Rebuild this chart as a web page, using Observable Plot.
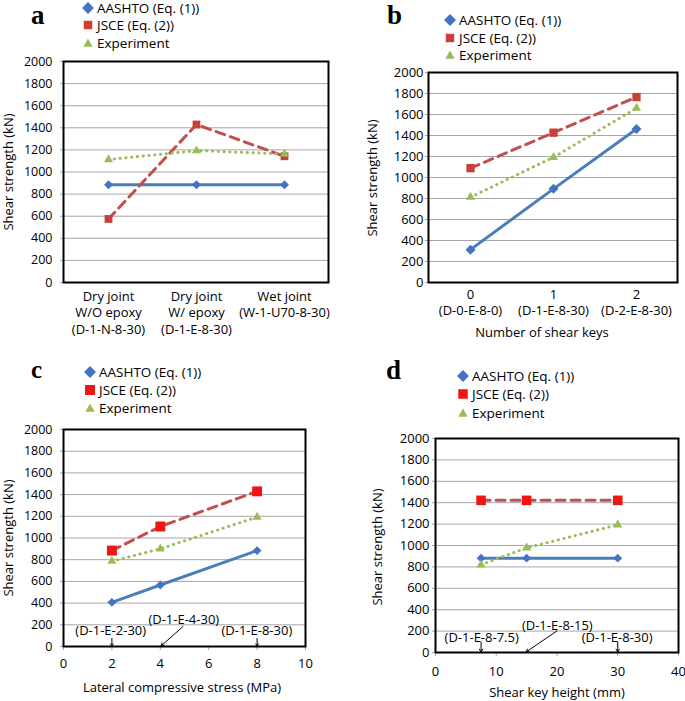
<!DOCTYPE html>
<html>
<head>
<meta charset="utf-8">
<script src="https://cdn.jsdelivr.net/npm/d3@7"></script>
<script src="https://cdn.jsdelivr.net/npm/@observablehq/plot@0.6"></script>
<style>
  body { margin: 0; background: #fff; }
  #root { position: relative; width: 685px; height: 701px; overflow: hidden; font-family: "Open Sans", sans-serif; }
  .panel { position: absolute; }
  #overlay { position: absolute; left: 0; top: 0; pointer-events: none; }
</style>
</head>
<body>
<div id="root"></div>
<script>
// ---------------- DATA ----------------
const seriesNames = ["AASHTO (Eq. (1))", "JSCE (Eq. (2))", "Experiment"];
const yTicks = [0, 200, 400, 600, 800, 1000, 1200, 1400, 1600, 1800, 2000];

// Panel a: joint type
const aCategories = ["Dry joint\nW/O epoxy\n(D-1-N-8-30)", "Dry joint\nW/ epoxy\n(D-1-E-8-30)", "Wet joint\n(W-1-U70-8-30)"];
const aAASHTO = [885, 885, 885];
const aJSCE = [575, 1430, 1142];
const aExperiment = [1113, 1193, 1163];

// Panel b: number of shear keys
const bKeys = [0, 1, 2];
const bKeyLabels = ["0\n(D-0-E-8-0)", "1\n(D-1-E-8-30)", "2\n(D-2-E-8-30)"];
const bAASHTO = [313, 892, 1462];
const bJSCE = [1089, 1427, 1766];
const bExperiment = [813, 1193, 1661];

// Panel c: lateral compressive stress
const cStress = [2, 4, 8];
const cXTicks = [0, 2, 4, 6, 8, 10];
const cAASHTO = [407, 567, 884];
const cJSCE = [884, 1106, 1430];
const cExperiment = [786, 900, 1193];
const cSpecimens = ["(D-1-E-2-30)", "(D-1-E-4-30)", "(D-1-E-8-30)"];

// Panel d: shear key height
const dHeight = [7.5, 15, 30];
const dXTicks = [0, 10, 20, 30, 40];
const dAASHTO = [882, 882, 882];
const dJSCE = [1422, 1422, 1422];
const dExperiment = [820, 978, 1193];
const dSpecimens = ["(D-1-E-8-7.5)", "(D-1-E-8-15)", "(D-1-E-8-30)"];

// ---------------- STYLE ----------------
const BLUE_LINE = "#4A7EBB", BLUE_MARK = "#4472C4";
const RED_LINE = "#C0504D";
const GREEN = "#9BBB59";
const GRID = "#a6a6a6";
const FONT = "Open Sans";

function rows(xs, ys) { return xs.map((x, i) => ({x, y: ys[i]})); }

function seriesMarks(xs, A, J, E, opt) {
  return [
    Plot.line(rows(xs, A), {x: "x", y: "y", stroke: BLUE_LINE, strokeWidth: 3}),
    Plot.line(rows(xs, J), {x: "x", y: "y", stroke: RED_LINE, strokeWidth: 3, strokeDasharray: "9,6"}),
    Plot.line(rows(xs, E), {x: "x", y: "y", stroke: GREEN, strokeWidth: 3, strokeDasharray: "0.2,5.6", strokeLinecap: "round"}),
    Plot.dot(rows(xs, A), {x: "x", y: "y", symbol: "diamond2", r: opt.rd, fill: BLUE_MARK, stroke: "none"}),
    Plot.dot(rows(xs, J), {x: "x", y: "y", symbol: "square", r: opt.rs, fill: opt.redMark, stroke: "none"}),
    Plot.dot(rows(xs, E), {x: "x", y: "y", symbol: "triangle", r: 3.4, fill: GREEN, stroke: "none"})
  ];
}

function baseStyle() {
  return {fontFamily: FONT, fontSize: "12px", color: "#000", background: "transparent", overflow: "visible"};
}

const root = document.getElementById("root");
function place(el, left, top) {
  const d = document.createElement("div");
  d.className = "panel";
  d.style.left = left + "px"; d.style.top = top + "px";
  d.appendChild(el);
  root.appendChild(d);
}

// ---------------- PANEL a ----------------
place(Plot.plot({
  width: 340, height: 340,
  marginLeft: 63, marginRight: 12, marginTop: 61, marginBottom: 58,
  style: baseStyle(),
  x: {type: "point", domain: aCategories, padding: 0.5, label: null},
  y: {domain: [0, 2000], label: null},
  marks: [
    Plot.gridY(yTicks, {stroke: GRID, strokeOpacity: 1}),
    Plot.axisY(yTicks, {tickSize: 3, tickPadding: 8, stroke: GRID, tickFormat: d => String(d), fontSize: 12.5, label: null}),
    Plot.axisX({tickSize: 0, tickPadding: 7, lineHeight: 1.25, fontSize: 13, label: null}),
    ...seriesMarks(aCategories, aAASHTO, aJSCE, aExperiment, {rd: 4.0, rs: 4.4, redMark: "#C8403C"}),
    Plot.frame({stroke: "black", strokeWidth: 2})
  ]
}), 0, 0);

// ---------------- PANEL b ----------------
place(Plot.plot({
  width: 345, height: 340,
  marginLeft: 88, marginRight: 8, marginTop: 72, marginBottom: 58,
  style: baseStyle(),
  x: {type: "point", domain: bKeys, padding: 0.5, label: null},
  y: {domain: [0, 2000], label: null},
  marks: [
    Plot.gridY(yTicks, {stroke: GRID, strokeOpacity: 1}),
    Plot.axisY(yTicks, {tickSize: 3, tickPadding: 2, stroke: GRID, tickFormat: d => String(d), fontSize: 13, label: null}),
    Plot.axisX({tickSize: 0, tickPadding: 5, lineHeight: 1.25, fontSize: 13, tickFormat: (d, i) => bKeyLabels[i], label: null}),
    ...seriesMarks(bKeys, bAASHTO, bJSCE, bExperiment, {rd: 4.5, rs: 4.7, redMark: "#C8403C"}),
    Plot.frame({stroke: "black", strokeWidth: 2})
  ]
}), 340, 0);

// ---------------- PANEL c ----------------
const cLabelPos = [{x: 1.95, y: 142}, {x: 4.97, y: 250}, {x: 7.99, y: 142}];
const cArrows = [
  {x1: 2, y1: 74, x2: 2, y2: 4},
  {x1: 4.94, y1: 185, x2: 4.03, y2: 4},
  {x1: 8, y1: 74, x2: 8, y2: 4}
];
place(Plot.plot({
  width: 340, height: 361,
  marginLeft: 63, marginRight: 35, marginTop: 89, marginBottom: 55,
  style: baseStyle(),
  x: {domain: [0, 10], label: null},
  y: {domain: [0, 2000], label: null},
  marks: [
    Plot.gridY(yTicks, {stroke: GRID, strokeOpacity: 1}),
    Plot.axisY(yTicks, {tickSize: 3, tickPadding: 8, stroke: GRID, tickFormat: d => String(d), fontSize: 12.5, label: null}),
    Plot.axisX(cXTicks, {tickSize: 4, tickPadding: 8, stroke: GRID, tickFormat: d => String(d), fontSize: 13, label: null}),
    ...seriesMarks(cStress, cAASHTO, cJSCE, cExperiment, {rd: 4.0, rs: 5.6, redMark: "#F01414"}),
    Plot.text(cSpecimens, {x: (d, i) => cLabelPos[i].x, y: (d, i) => cLabelPos[i].y, text: d => d, fontSize: 13, fill: "black"}),
    Plot.arrow(cArrows, {x1: "x1", y1: "y1", x2: "x2", y2: "y2", stroke: "black", strokeWidth: 1, headLength: 5}),
    Plot.frame({stroke: "black", strokeWidth: 2})
  ]
}), 0, 340);

// ---------------- PANEL d ----------------
const dLabelPos = [{x: 7.6, y: 140}, {x: 20.05, y: 252}, {x: 29.9, y: 140}];
const dArrows = [
  {x1: 7.5, y1: 99, x2: 7.5, y2: 4},
  {x1: 20, y1: 202, x2: 14.9, y2: 4},
  {x1: 30, y1: 99, x2: 30, y2: 4}
];
place(Plot.plot({
  width: 345, height: 361,
  marginLeft: 95, marginRight: 7, marginTop: 98, marginBottom: 49,
  style: baseStyle(),
  x: {domain: [0, 40], label: null},
  y: {domain: [0, 2000], label: null},
  marks: [
    Plot.gridY(yTicks, {stroke: GRID, strokeOpacity: 1}),
    Plot.axisY(yTicks, {tickSize: 3, tickPadding: 3, stroke: GRID, tickFormat: d => String(d), fontSize: 13, label: null}),
    Plot.axisX(dXTicks, {tickSize: 4, tickPadding: 10, stroke: GRID, tickFormat: d => String(d), fontSize: 13, label: null}),
    ...seriesMarks(dHeight, dAASHTO, dJSCE, dExperiment, {rd: 4.0, rs: 5.4, redMark: "#F01414"}),
    Plot.text(dSpecimens, {x: (d, i) => dLabelPos[i].x, y: (d, i) => dLabelPos[i].y, text: d => d, fontSize: 13, fill: "black"}),
    Plot.arrow(dArrows, {x1: "x1", y1: "y1", x2: "x2", y2: "y2", stroke: "black", strokeWidth: 1, headLength: 5}),
    Plot.frame({stroke: "black", strokeWidth: 2})
  ]
}), 340, 340);

// ---------------- OVERLAY: panel letters, legends, axis titles ----------------
const svg = d3.select(root).append("svg")
  .attr("id", "overlay").attr("width", 685).attr("height", 701)
  .style("font-family", FONT);

const letters = [
  {t: "a", x: 31, y: 24, s: 27},
  {t: "b", x: 387, y: 24, s: 27},
  {t: "c", x: 31, y: 378, s: 25},
  {t: "d", x: 386, y: 379, s: 27}
];
svg.selectAll("text.letter").data(letters).join("text")
  .attr("class", "letter")
  .attr("x", d => d.x).attr("y", d => d.y)
  .attr("font-family", "Liberation Serif, serif").attr("font-weight", "bold")
  .attr("font-size", d => d.s).text(d => d.t);

const legends = [
  {mx: 88, tx: 97, ys: [8, 25, 43], red: "#D63B30", sq: 72},
  {mx: 450, tx: 459, ys: [20, 38, 55], red: "#C8403C", sq: 72},
  {mx: 90, tx: 99, ys: [372, 390, 408], red: "#F01414", sq: 100},
  {mx: 463, tx: 472, ys: [376, 394, 413], red: "#F01414", sq: 90}
];
legends.forEach(L => {
  const colors = [BLUE_MARK, L.red, GREEN];
  const legendSymbols = [d3.symbol(d3.symbolDiamond2, 90), d3.symbol(d3.symbolSquare, L.sq), d3.symbol(d3.symbolTriangle, 38)];
  seriesNames.forEach((name, i) => {
    svg.append("path").attr("d", legendSymbols[i]())
      .attr("transform", `translate(${L.mx},${L.ys[i] + (i === 2 ? 1 : 0)})`)
      .attr("fill", colors[i]);
    svg.append("text").attr("x", L.tx).attr("y", L.ys[i])
      .attr("dominant-baseline", "central").attr("font-size", 13.5).text(name);
  });
});

const yTitles = [{x: 8, y: 172}, {x: 372, y: 178}, {x: 8, y: 538}, {x: 377, y: 547}];
yTitles.forEach(p => {
  svg.append("text").attr("transform", `translate(${p.x},${p.y}) rotate(-90)`)
    .attr("text-anchor", "middle").attr("dominant-baseline", "central")
    .attr("font-size", 13).text("Shear strength (kN)");
});
const xTitles = [
  {t: "Number of shear keys", x: 542, y: 332},
  {t: "Lateral compressive stress (MPa)", x: 182, y: 687},
  {t: "Shear key height (mm)", x: 557, y: 692}
];
xTitles.forEach(p => {
  svg.append("text").attr("x", p.x).attr("y", p.y)
    .attr("text-anchor", "middle").attr("dominant-baseline", "central")
    .attr("font-size", 13).text(p.t);
});
</script>
</body>
</html>
